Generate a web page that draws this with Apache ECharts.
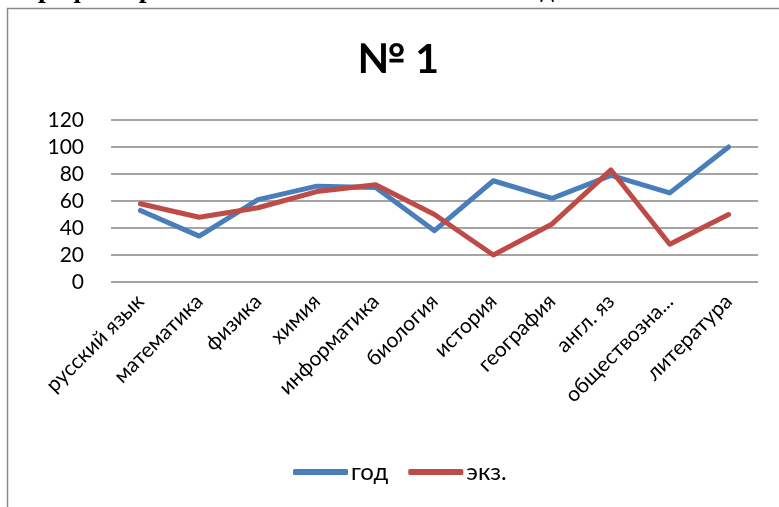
<!DOCTYPE html>
<html><head><meta charset="utf-8">
<script src="https://cdn.jsdelivr.net/npm/echarts@6/dist/echarts.min.js"></script>
<style>html,body{margin:0;padding:0;background:#fff;}#c{width:779px;height:507px;}</style>
</head><body><div id="c"></div>
<script>
const categories = ['русский язык','математика','физика','химия','информатика','биология','история','география','англ. яз','обществознание','литература'];
const yearValues = [53, 34, 61, 71, 70, 38, 75, 62, 79, 66, 100];
const examValues = [58, 48, 55, 67, 72, 50, 20, 43, 83, 28, 50];
const yTicks = [0, 20, 40, 60, 80, 100, 120];
const titleText = '№ 1';
const headingText = 'График сравнения качества знаний за год и на экзамене';

const font = 'Lato, "Noto Sans", sans-serif';
const chart = echarts.init(document.getElementById('c'), null, {renderer: 'canvas'});
chart.setOption({
  animation: false,
  backgroundColor: '#fff',
  title: {text: titleText, left: 352, top: 34, textStyle: {fontFamily: font, fontSize: 41, fontWeight: 'bold', color: '#000'}},
  graphic: [
    {type: 'rect', shape: {x: 7.5, y: 8.5, width: 820, height: 620}, style: {fill: null, stroke: '#8a8a8a', lineWidth: 1.5}, silent: true},
    {type: 'text', left: 22, top: -24, style: {text: headingText, font: 'bold 28px "Liberation Serif", serif', fill: '#000'}, silent: true}
  ],
  grid: {left: 111, right: 21, top: 120, bottom: 225, containLabel: false},
  legend: {
    bottom: 18, left: 288, itemWidth: 55, itemHeight: 6, itemGap: 20,
    icon: 'roundRect',
    textStyle: {fontFamily: font, fontSize: 24, color: '#000', padding: [0, 0, 0, -2]},
    data: ['год', 'экз.']
  },
  xAxis: {
    type: 'category', data: categories, boundaryGap: true,
    axisLine: {show: false}, axisTick: {show: false},
    axisLabel: {rotate: 45, margin: 16, fontFamily: font, fontSize: 21, color: '#000', interval: 0,
      formatter: v => v.length > 12 ? v.slice(0, 11) + '...' : v}
  },
  yAxis: {
    type: 'value', min: yTicks[0], max: yTicks[yTicks.length - 1], interval: 20,
    axisLine: {show: false}, axisTick: {show: false},
    axisLabel: {margin: 27, fontFamily: font, fontSize: 21, color: '#000'},
    splitLine: {lineStyle: {color: '#868686', width: 1.5}}
  },
  series: [
    {name: 'год', type: 'line', data: yearValues, symbol: 'none', lineStyle: {color: '#4A7EBB', width: 5, join: 'round', cap: 'round'}, itemStyle: {color: '#4A7EBB'}},
    {name: 'экз.', type: 'line', data: examValues, symbol: 'none', lineStyle: {color: '#BE4B48', width: 5, join: 'round', cap: 'round'}, itemStyle: {color: '#BE4B48'}}
  ]
});
</script></body></html>
